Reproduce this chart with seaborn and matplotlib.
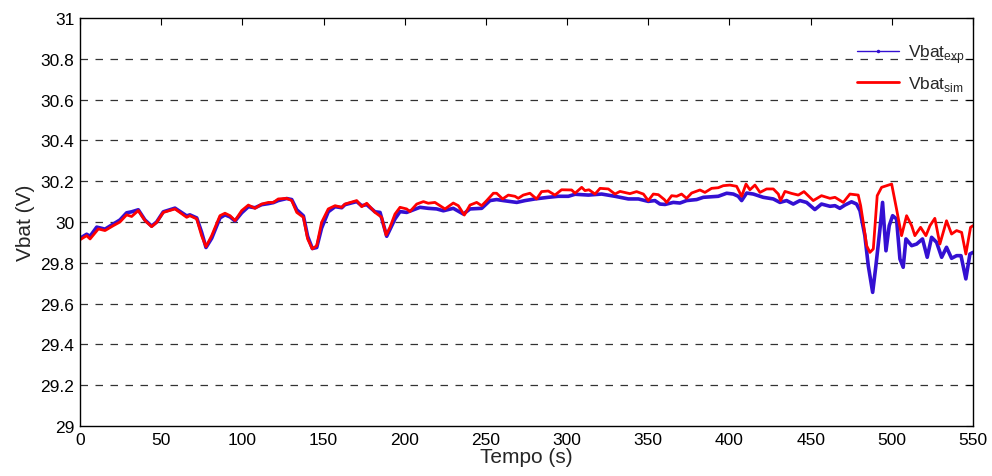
import numpy as np
import pandas as pd
import matplotlib
matplotlib.use("Agg")
import matplotlib.pyplot as plt
import seaborn as sns
from matplotlib.lines import Line2D


# measured battery voltage (experiment)
t_exp = [0, 4.1, 6.2, 10.3, 15.4, 20.5, 24.6, 28.7, 31.8, 35.9, 40.0, 44.1, 47.2, 51.3,
         58.5, 65.7, 67.7, 71.9, 74.9, 77.6, 81.1, 86.2, 89.3, 92.4, 95.5, 99.6, 103.7,
         107.8, 111.9, 116.0, 119.1, 122.1, 127.3, 130.4, 133.5, 137.6, 140.2, 143.1,
         145.8, 148.8, 152.9, 157.1, 161.2, 163.2, 170.4, 173.5, 176.6, 181.7, 184.8,
         188.9, 194.0, 197.1, 201.2, 209.4, 214.5, 219.7, 223.8, 229.9, 236.1, 240.2,
         247.4, 252.5, 256.6, 260.7, 269.0, 274.1, 280.2, 288.4, 294.6, 300.8, 304.9,
         313.1, 321.3, 329.5, 337.7, 343.9, 350.0, 354.1, 357.2, 360.3, 365.4, 369.5,
         373.6, 379.8, 383.9, 393.1, 398.3, 402.4, 405.4, 407.5, 410.6, 414.7, 420.8,
         427.0, 431.1, 435.2, 439.3, 443.4, 447.5, 452.6, 456.7, 461.9, 465.0, 468.0,
         471.1, 475.2, 478.3, 480.4, 483.4, 485.5, 488.2, 490.2, 492.7, 494.3, 496.4,
         498.4, 500.5, 502.9, 505.0, 507.0, 508.7, 512.2, 515.3, 518.9, 521.8, 524.5,
         527.6, 530.7, 533.7, 536.8, 539.9, 542.6, 545.6, 548.1, 550.0]
v_exp = [29.92, 29.94, 29.93, 29.975, 29.965, 29.99, 30.01, 30.045, 30.05, 30.06, 30.01,
         29.98, 30.0, 30.05, 30.068, 30.03, 30.035, 30.02, 29.95, 29.875, 29.92, 30.02,
         30.035, 30.025, 30.005, 30.045, 30.075, 30.07, 30.085, 30.09, 30.095, 30.105,
         30.115, 30.11, 30.06, 30.03, 29.93, 29.87, 29.875, 29.97, 30.05, 30.075, 30.07,
         30.085, 30.1, 30.08, 30.085, 30.05, 30.047, 29.93, 30.015, 30.051, 30.047,
         30.072, 30.067, 30.064, 30.055, 30.067, 30.039, 30.064, 30.067, 30.105, 30.11,
         30.105, 30.096, 30.105, 30.113, 30.121, 30.126, 30.126, 30.136, 30.132, 30.137,
         30.126, 30.113, 30.113, 30.101, 30.105, 30.088, 30.086, 30.096, 30.093, 30.105,
         30.11, 30.121, 30.126, 30.141, 30.137, 30.126, 30.105, 30.142, 30.137, 30.121,
         30.113, 30.096, 30.105, 30.088, 30.105, 30.096, 30.061, 30.088, 30.077, 30.08,
         30.067, 30.083, 30.099, 30.088, 30.055, 29.933, 29.786, 29.655, 29.786, 29.966,
         30.096, 29.859, 29.982, 30.031, 30.015, 29.819, 29.778, 29.917, 29.884, 29.892,
         29.917, 29.827, 29.925, 29.9, 29.827, 29.876, 29.822, 29.835, 29.835, 29.721,
         29.843, 29.851]

# simulated battery voltage (model)
t_sim = [0, 4.1, 6.2, 11.3, 15.4, 20.5, 24.6, 28.7, 31.8, 35.9, 40.0, 44.1, 47.2, 51.3,
         58.5, 65.7, 67.7, 71.9, 74.9, 77.6, 81.1, 86.2, 89.3, 92.4, 95.5, 99.6, 103.7,
         107.8, 111.9, 116.0, 119.1, 122.1, 127.3, 130.4, 133.5, 137.6, 140.2, 143.1,
         145.8, 148.8, 152.9, 157.1, 161.2, 163.2, 170.4, 173.5, 176.6, 181.7, 185.8,
         188.5, 190.9, 194.0, 197.1, 201.2, 203.2, 207.4, 211.5, 214.5, 218.6, 221.7,
         224.8, 229.9, 233.0, 236.7, 240.2, 244.3, 247.4, 250.5, 254.6, 256.6, 260.3,
         263.8, 267.9, 269.9, 273.0, 277.1, 281.2, 284.3, 288.4, 292.5, 296.6, 302.8,
         304.9, 309.0, 311.0, 313.5, 317.2, 320.3, 325.4, 329.5, 332.6, 338.7, 342.8,
         347.0, 350.0, 353.1, 356.2, 359.9, 361.3, 364.4, 367.5, 370.5, 373.6, 376.7,
         381.8, 384.9, 389.0, 393.1, 396.2, 400.3, 404.4, 407.5, 410.2, 412.6, 415.7,
         418.8, 422.9, 427.0, 430.1, 431.5, 434.2, 438.3, 442.4, 445.9, 451.6, 456.7,
         461.9, 465.0, 470.1, 474.2, 479.3, 480.8, 482.4, 484.5, 486.5, 488.6, 491.0,
         493.7, 499.9, 502.9, 506.0, 509.1, 512.2, 514.2, 517.7, 521.0, 523.5, 526.5,
         529.6, 533.7, 536.8, 539.9, 543.0, 545.6, 548.5, 550.0]
v_sim = [29.913, 29.933, 29.917, 29.966, 29.958, 29.982, 30.0, 30.035, 30.027, 30.056,
         30.007, 29.977, 29.998, 30.047, 30.064, 30.023, 30.031, 30.015, 29.933, 29.879,
         29.933, 30.031, 30.043, 30.031, 30.007, 30.056, 30.083, 30.067, 30.088, 30.096,
         30.096, 30.113, 30.116, 30.105, 30.047, 30.023, 29.917, 29.868, 29.884, 29.998,
         30.064, 30.08, 30.072, 30.088, 30.105, 30.075, 30.092, 30.047, 30.023, 29.936,
         29.974, 30.039, 30.072, 30.064, 30.051, 30.088, 30.1, 30.092, 30.096, 30.08,
         30.064, 30.093, 30.08, 30.034, 30.083, 30.096, 30.08, 30.105, 30.141, 30.141,
         30.113, 30.132, 30.126, 30.116, 30.132, 30.141, 30.113, 30.149, 30.152, 30.132,
         30.158, 30.157, 30.141, 30.17, 30.154, 30.158, 30.137, 30.165, 30.162, 30.137,
         30.15, 30.139, 30.149, 30.137, 30.105, 30.137, 30.134, 30.11, 30.096, 30.129,
         30.126, 30.137, 30.116, 30.142, 30.157, 30.145, 30.165, 30.168, 30.178, 30.181,
         30.175, 30.126, 30.186, 30.158, 30.181, 30.145, 30.162, 30.162, 30.137, 30.105,
         30.15, 30.14, 30.132, 30.149, 30.105, 30.129, 30.116, 30.121, 30.096, 30.137,
         30.132, 30.08, 29.998, 29.884, 29.851, 29.868, 30.129, 30.17, 30.186, 30.064,
         29.933, 30.031, 29.982, 29.933, 29.974, 29.933, 29.982, 30.018, 29.892, 30.006,
         29.941, 29.958, 29.949, 29.843, 29.974, 29.982]

x_ticks = [0, 50, 100, 150, 200, 250, 300, 350, 400, 450, 500, 550]
y_ticks = [29, 29.2, 29.4, 29.6, 29.8, 30, 30.2, 30.4, 30.6, 30.8, 31]
y_tick_labels = ["29", "29.2", "29.4", "29.6", "29.8", "30", "30.2", "30.4", "30.6", "30.8", "31"]

BLUE = "#3410d2"
RED = "#ff0000"

sns.set_style("white")
plt.rcParams["font.family"] = ["Liberation Sans", "DejaVu Sans"]
plt.rcParams["mathtext.fontset"] = "custom"
plt.rcParams["mathtext.rm"] = "Liberation Sans"

df_exp = pd.DataFrame({"t": t_exp, "v": v_exp})
df_sim = pd.DataFrame({"t": t_sim, "v": v_sim})

fig = plt.figure(figsize=(9.92, 4.77), dpi=100)
ax = fig.add_axes([80 / 992, 1 - 427 / 477, 893 / 992, 408 / 477])

# horizontal dashed grid like the matlab figure
for yv in y_ticks[1:-1]:
    ax.axhline(yv, color="#333333", lw=0.9, ls=(0, (6, 6)), zorder=0)

sns.lineplot(data=df_exp, x="t", y="v", ax=ax, color=BLUE, lw=2.6, legend=False)
sns.lineplot(data=df_sim, x="t", y="v", ax=ax, color=RED, lw=2.0, legend=False)

ax.set_xlim(0, 550)
ax.set_ylim(29, 31)
ax.set_xticks(x_ticks)
ax.set_yticks(y_ticks)
ax.set_yticklabels(y_tick_labels)
ax.tick_params(direction="in", length=5, width=0.8, labelsize=12.5,
               top=True, right=True, pad=4, colors="black")
for s in ax.spines.values():
    s.set_color("black")
    s.set_linewidth(1.0)

ax.set_xlabel("Tempo (s)", fontsize=15, labelpad=0)
ax.set_ylabel("Vbat (V)", fontsize=15, labelpad=4)

handles = [
    Line2D([0], [0], color=BLUE, lw=1.0, marker=".", markersize=3),
    Line2D([0], [0], color=RED, lw=2.0),
]
labels = ["Vbat$_{\\mathregular{exp}}$", "Vbat$_{\\mathregular{sim}}$"]
ax.legend(handles, labels, loc="upper right", frameon=False, fontsize=12.5,
          handlelength=2.4, handletextpad=0.5, bbox_to_anchor=(1.008, 0.98),
          labelspacing=0.55)

fig.savefig("out.png", dpi=100)
